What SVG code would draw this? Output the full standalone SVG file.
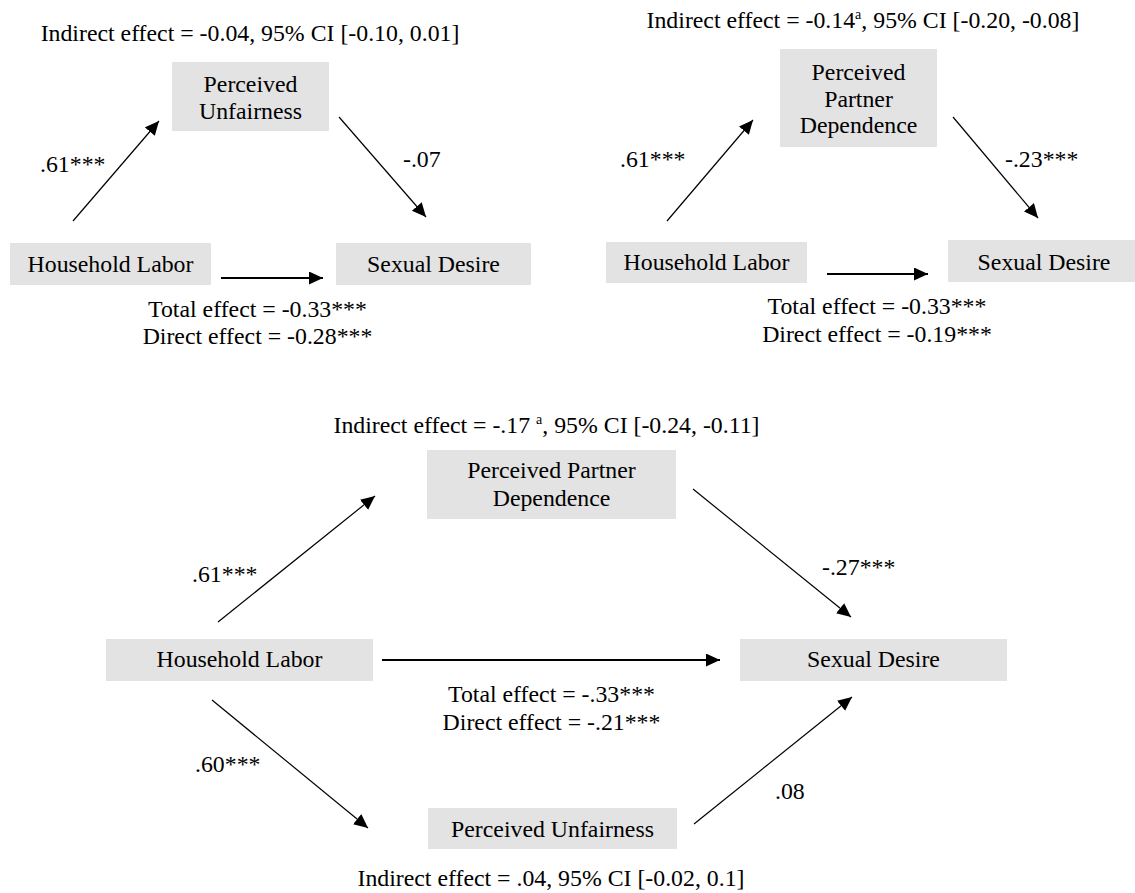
<svg xmlns="http://www.w3.org/2000/svg" width="1135" height="893" viewBox="0 0 1135 893">
<style>
text{font-family:"Liberation Serif","Times New Roman",serif;font-size:23.8px;fill:#000}
.c{text-anchor:middle}
.box{fill:#e3e3e3}
.ln{stroke:#000;stroke-width:1.2;fill:none}
.h{stroke-width:1.8}
</style>
<defs>
<marker id="ah" markerUnits="userSpaceOnUse" markerWidth="15" markerHeight="14" refX="14" refY="6.5" orient="auto" viewBox="0 0 15 14">
<path d="M0,0 L14,6.5 L0,13 z" fill="#000"/>
</marker>
</defs>
<rect width="1135" height="893" fill="#fff"/>

<!-- Panel 1 -->
<text class="c" x="250" y="41">Indirect effect = -0.04, 95% CI [-0.10, 0.01]</text>
<g id="p1-pu"><rect class="box" x="172" y="62" width="157" height="69"/><text class="c" x="250.5" y="92">Perceived</text><text class="c" x="250.5" y="119">Unfairness</text></g>
<g id="p1-hl"><rect class="box" x="10" y="243" width="201" height="42"/><text class="c" x="110.5" y="272">Household Labor</text></g>
<g id="p1-sd"><rect class="box" x="336" y="243" width="195" height="42"/><text class="c" x="433.5" y="272">Sexual Desire</text></g>
<text x="40" y="172">.61***</text>
<text x="403" y="167">-.07</text>
<text class="c" x="257.5" y="317">Total effect = -0.33***</text>
<text class="c" x="257.5" y="344">Direct effect = -0.28***</text>

<!-- Panel 2 -->
<text class="c" x="863" y="28">Indirect effect = -0.14<tspan font-size="14" dy="-9">a</tspan><tspan dy="9">, 95% CI [-0.20, -0.08]</tspan></text>
<g id="p2-ppd"><rect class="box" x="780" y="49" width="157" height="98"/><text class="c" x="858.5" y="80">Perceived</text><text class="c" x="858.5" y="107">Partner</text><text class="c" x="858.5" y="133">Dependence</text></g>
<g id="p2-hl"><rect class="box" x="606" y="242" width="201" height="41"/><text class="c" x="706.5" y="270">Household Labor</text></g>
<g id="p2-sd"><rect class="box" x="948" y="240" width="195" height="42"/><text class="c" x="1044" y="270">Sexual Desire</text></g>
<text x="620" y="167">.61***</text>
<text x="1005" y="167">-.23***</text>
<text class="c" x="877" y="314">Total effect = -0.33***</text>
<text class="c" x="877" y="342">Direct effect = -0.19***</text>

<!-- Panel 3 -->
<text class="c" x="546.5" y="433">Indirect effect = -.17 <tspan font-size="14" dy="-9">a</tspan><tspan dy="9">, 95% CI [-0.24, -0.11]</tspan></text>
<g id="p3-ppd"><rect class="box" x="427" y="450" width="249" height="69"/><text class="c" x="551.5" y="478">Perceived Partner</text><text class="c" x="551.5" y="506">Dependence</text></g>
<g id="p3-hl"><rect class="box" x="106" y="639" width="267" height="42"/><text class="c" x="239.5" y="667">Household Labor</text></g>
<g id="p3-sd"><rect class="box" x="740" y="639" width="267" height="42"/><text class="c" x="873.5" y="667">Sexual Desire</text></g>
<g id="p3-pu"><rect class="box" x="428" y="808" width="249" height="41"/><text class="c" x="552.5" y="837">Perceived Unfairness</text></g>
<text x="192" y="582">.61***</text>
<text x="822" y="575">-.27***</text>
<text x="195" y="772">.60***</text>
<text x="775" y="799">.08</text>
<text class="c" x="551.5" y="702">Total effect = -.33***</text>
<text class="c" x="551.5" y="730">Direct effect = -.21***</text>
<text class="c" x="551" y="886">Indirect effect = .04, 95% CI [-0.02, 0.1]</text>

<g id="connectors">
<line class="ln" x1="73" y1="221" x2="159" y2="121" marker-end="url(#ah)"/>
<line class="ln" x1="339" y1="117" x2="426" y2="217" marker-end="url(#ah)"/>
<line class="ln h" x1="221" y1="278" x2="323" y2="278" marker-end="url(#ah)"/>
<line class="ln" x1="667" y1="221" x2="753" y2="120" marker-end="url(#ah)"/>
<line class="ln" x1="953" y1="117" x2="1038" y2="218" marker-end="url(#ah)"/>
<line class="ln h" x1="827" y1="274" x2="928" y2="274" marker-end="url(#ah)"/>
<line class="ln" x1="218" y1="622" x2="375" y2="496" marker-end="url(#ah)"/>
<line class="ln" x1="693" y1="489" x2="851" y2="617" marker-end="url(#ah)"/>
<line class="ln h" x1="382" y1="660" x2="720" y2="660" marker-end="url(#ah)"/>
<line class="ln" x1="212" y1="700" x2="368" y2="828" marker-end="url(#ah)"/>
<line class="ln" x1="694" y1="824" x2="852" y2="697" marker-end="url(#ah)"/>
</g>
</svg>
